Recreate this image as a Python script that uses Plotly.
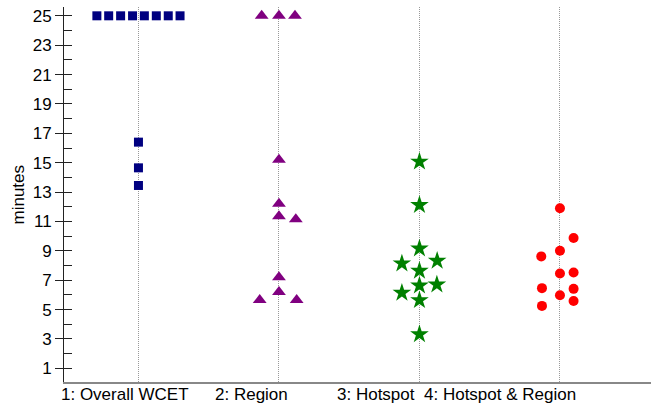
import plotly.graph_objects as go

# ---- data ----
categories = ["1: Overall WCET", "2: Region", "3: Hotspot", "4: Hotspot & Region"]
cat_pos = [1, 2, 3, 4]

wcet_y = [25, 25, 25, 25, 25, 25, 25, 25, 16.4, 14.65, 13.45]
wcet_dx = [-0.296, -0.212, -0.127, -0.042, 0.042, 0.127, 0.212, 0.296, 0, 0, 0]

region_y = [25, 25, 25, 15.2, 12.2, 11.35, 11.15, 7.2, 6.2, 5.65, 5.65]
region_dx = [-0.123, 0, 0.114, 0, 0, 0, 0.12, 0, 0, -0.137, 0.126]

hotspot_y = [15.07, 12.12, 9.16, 8.14, 8.32, 7.64, 6.64, 6.71, 6.14, 5.64, 3.32]
hotspot_dx = [0, 0, 0, -0.125, 0.126, 0, 0, 0.124, -0.125, 0, 0]

hr_y = [11.9, 9.87, 9.0, 8.62, 7.46, 7.53, 6.46, 6.41, 5.98, 5.59, 5.25]
hr_dx = [0, 0.097, 0, -0.133, 0, 0.097, -0.128, 0.097, 0, 0.097, -0.128]

y_ticks_major = list(range(1, 26, 2))
y_ticks_all = list(range(1, 26))

# label anchor positions along x (layout)
label_x = [0.904, 1.808, 2.69, 3.573]

series = [
    (cat_pos[0], wcet_dx, wcet_y, "square", "#000080", 9),
    (cat_pos[1], region_dx, region_y, "triangle-up", "#800080", 12),
    (cat_pos[2], hotspot_dx, hotspot_y, "star", "#008000", 14),
    (cat_pos[3], hr_dx, hr_y, "circle", "#FF0000", 10),
]

fig = go.Figure()
for c, dx, ys, sym, col, sz in series:
    fig.add_trace(go.Scatter(
        x=[c + d for d in dx], y=ys, mode="markers",
        marker=dict(symbol=sym, color=col, size=sz, line=dict(width=0)),
        showlegend=False, cliponaxis=False,
    ))

font = "Liberation Sans, Arial, sans-serif"

fig.update_layout(
    template="none",
    width=651, height=403,
    margin=dict(l=64, r=0, t=7, b=21, autoexpand=False),
    plot_bgcolor="white", paper_bgcolor="white",
    font=dict(family=font, size=17, color="black"),
    xaxis=dict(
        range=[0.47, 4.648], tickvals=cat_pos, showticklabels=False, automargin=False,
        ticks="", showgrid=True, gridcolor="#999999", griddash="1px,1px", gridwidth=1,
        showline=True, linecolor="#888888", linewidth=2, zeroline=False,
    ),
    yaxis=dict(
        range=[0.07, 25.6], tickvals=y_ticks_major, automargin=False,
        ticks="outside", ticklen=8, tickcolor="#222222", tickwidth=1,
        showgrid=False, zeroline=False, showline=True, linecolor="#222222",
        linewidth=1, tickfont=dict(size=17, family=font), ticklabelstandoff=0,
    ),
    yaxis2=dict(
        range=[0.07, 25.6], overlaying="y", side="left", tickvals=y_ticks_all,
        automargin=False,
        ticks="inside", ticklen=8, tickcolor="#222222", tickwidth=1,
        showticklabels=False, showgrid=False, zeroline=False, showline=False,
    ),
)
fig.add_trace(go.Scatter(x=[None], y=[None], yaxis="y2", showlegend=False))

for lx, txt in zip(label_x, categories):
    fig.add_annotation(x=lx, y=0, xref="x", yref="paper", yshift=-1,
                       text=txt, showarrow=False, yanchor="top", xanchor="center",
                       font=dict(size=17, family=font))

fig.add_annotation(x=(18 - 64) / 587, y=0.5, xref="paper", yref="paper", text="minutes",
                   textangle=-90, showarrow=False, xanchor="center", yanchor="middle",
                   font=dict(size=17, family=font))

fig.write_html("out.html", config={"displayModeBar": False},
               post_script="document.body.style.margin='0';")
